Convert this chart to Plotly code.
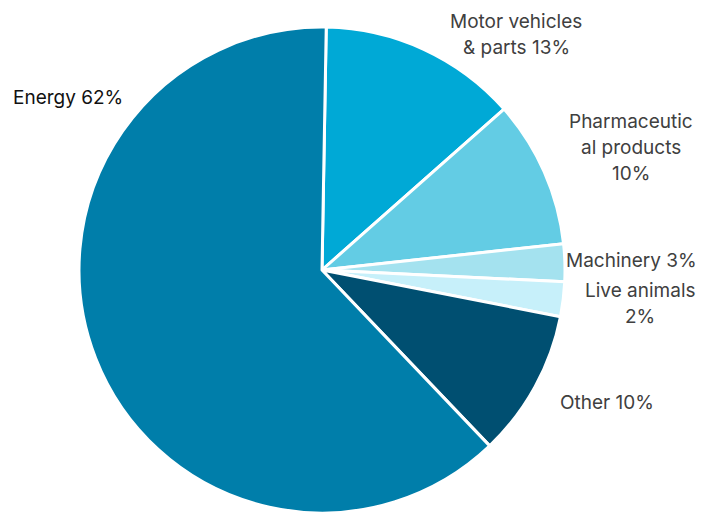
import plotly.graph_objects as go

categories = ["Motor vehicles & parts", "Pharmaceutical products", "Machinery",
              "Live animals", "Other", "Energy"]
shares = [13.2, 9.8, 2.5, 2.3, 9.8, 62.4]
label_lines = [
    ["Motor vehicles", "& parts 13%"],
    ["Pharmaceutic", "al products", "10%"],
    ["Machinery 3%"],
    ["Live animals", "2%"],
    ["Other 10%"],
    ["Energy 62%"],
]
colors = ["#00A9D6", "#63CCE4", "#A4E2EF", "#C7F0FA", "#004F71", "#007EAA"]

W, H = 706, 512
OFF = 8  # page body margin
cx, cy, r = 322 - OFF, 270 - OFF, 243
fig = go.Figure(go.Pie(
    labels=categories, values=shares, sort=False, direction="clockwise",
    rotation=1, textinfo="none", hoverinfo="label+percent",
    marker=dict(colors=colors, line=dict(color="white", width=3)),
    domain=dict(x=[(cx - r) / W, (cx + r) / W],
                y=[(H - cy - r) / H, (H - cy + r) / H]),
    showlegend=False,
))

# label placement (pixel centers of first line), line spacing 26px
label_pos = [(516, 21), (631, 121), (631, 260), (640, 290), (607, 402), (68, 97)]
text_colors = ["#404040"] * 5 + ["#111111"]
anns = []
for lines, (px, py), col in zip(label_lines, label_pos, text_colors):
    for i, ln in enumerate(lines):
        anns.append(dict(x=(px - OFF) / W, y=1 - (py - OFF + 26 * i) / H,
                         xref="paper", yref="paper",
                         text=ln, showarrow=False, xanchor="center", yanchor="middle",
                         font=dict(family="Inter", size=19, color=col)))

fig.update_layout(width=W, height=H, margin=dict(l=0, r=0, t=0, b=0),
                  paper_bgcolor="white", plot_bgcolor="white", annotations=anns)
fig.write_html("out.html")
